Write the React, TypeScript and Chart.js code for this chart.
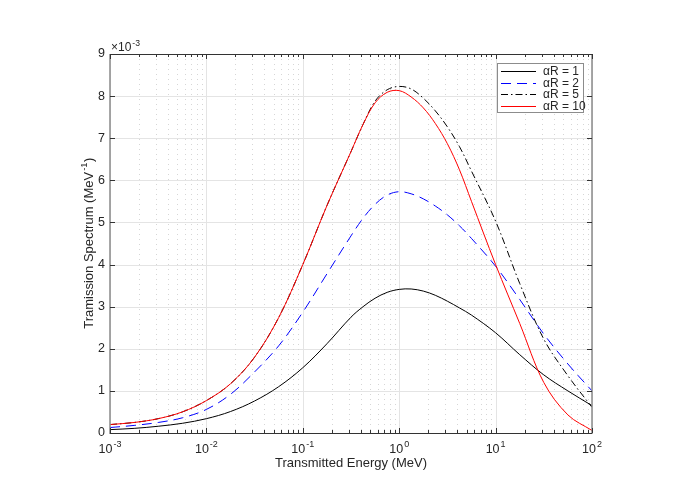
import { useEffect, useRef } from "react";
import { Chart, registerables } from "chart.js";

Chart.register(...registerables);

// transmitted energy (MeV); quarter decades, eighth decades near the peak
const energies = [
  0.001, 0.00178, 0.00316, 0.00562, 0.01, 0.0178, 0.0316, 0.0562, 0.1, 0.178, 0.316,
  0.422, 0.562, 0.75, 1, 1.33, 1.78, 2.37, 3.16, 4.22, 5.62, 10, 17.8, 31.6, 56.2, 100
];

// spectrum values in units of 1e-3 MeV^-1
const spectrumR1 = [
  0.08, 0.11, 0.16, 0.23, 0.34, 0.51, 0.76, 1.1, 1.55, 2.12, 2.75, 3.0, 3.2, 3.34,
  3.41, 3.42, 3.37, 3.27, 3.13, 2.97, 2.8, 2.38, 1.86, 1.38, 1.0, 0.65
];
const spectrumR2 = [
  0.13, 0.18, 0.25, 0.36, 0.56, 0.92, 1.45, 2.07, 2.87, 3.78, 4.68, 5.1, 5.43, 5.65,
  5.73, 5.68, 5.56, 5.39, 5.18, 4.92, 4.62, 3.96, 3.17, 2.35, 1.64, 1.0
];
const spectrumR5 = [
  0.2, 0.25, 0.34, 0.5, 0.77, 1.17, 1.8, 2.74, 4.0, 5.4, 6.68, 7.33, 7.88, 8.15,
  8.23, 8.17, 7.95, 7.65, 7.27, 6.8, 6.22, 5.03, 3.55, 2.23, 1.36, 0.61
];
const spectrumR10 = [
  0.2, 0.25, 0.34, 0.5, 0.77, 1.17, 1.8, 2.74, 4.0, 5.4, 6.68, 7.33, 7.84, 8.09,
  8.13, 7.98, 7.72, 7.35, 6.87, 6.25, 5.5, 4.0, 2.6, 1.2, 0.43, 0.06
];

const legendLabels = ["αR = 1", "αR = 2", "αR = 5", "αR = 10"];
const seriesColors = ["#000000", "#0000ff", "#000000", "#ff0000"];
const seriesDashes = [[], [10, 6], [7, 3, 1.5, 3], []];

const xMajorTicks = [0.001, 0.01, 0.1, 1, 10, 100];
const xTickExponents = ["-3", "-2", "-1", "0", "1", "2"];
const yTicks = [0, 1, 2, 3, 4, 5, 6, 7, 8, 9];
const yTickLabels = ["0", "1", "2", "3", "4", "5", "6", "7", "8", "9"];

const FONT = '"Liberation Sans", Arial, Helvetica, sans-serif';
const TEXT = "#262626";

// minor ticks 2..9 inside each decade
const xMinorTicks: number[] = [];
xMajorTicks.slice(0, -1).forEach((d) => {
  for (let m = 2; m <= 9; m++) xMinorTicks.push(d * m);
});

function toPoints(ys: number[]) {
  return ys.map((y, i) => ({ x: energies[i], y }));
}

// draws base with a raised exponent, centred on x (or starting at x)
function drawPower(
  ctx: CanvasRenderingContext2D,
  base: string,
  exp: string,
  x: number,
  y: number,
  align: "center" | "left" = "center",
  size = 12.5
) {
  ctx.font = `${size}px ${FONT}`;
  const wb = ctx.measureText(base).width;
  ctx.font = `${size * 0.72}px ${FONT}`;
  const we = ctx.measureText(exp).width;
  const start = align === "center" ? x - (wb + we + 1) / 2 : x;
  ctx.textAlign = "left";
  ctx.textBaseline = "alphabetic";
  ctx.font = `${size}px ${FONT}`;
  ctx.fillText(base, start, y);
  ctx.font = `${size * 0.72}px ${FONT}`;
  ctx.fillText(exp, start + wb + 1, y - size * 0.45);
  return start + wb + we + 1;
}

const matlabAxes = {
  id: "matlabAxes",
  beforeDatasetsDraw(chart: Chart) {
    const { ctx, chartArea: a } = chart;
    const xs = chart.scales.x;
    const ys = chart.scales.y;
    ctx.save();
    ctx.lineWidth = 1;

    ctx.strokeStyle = "#e4e4e4";
    yTicks.forEach((v) => {
      const py = Math.round(ys.getPixelForValue(v)) + 0.5;
      ctx.beginPath();
      ctx.moveTo(a.left, py);
      ctx.lineTo(a.right, py);
      ctx.stroke();
    });

    ctx.strokeStyle = "#d6d6d6";
    ctx.setLineDash([1, 4]);
    xMinorTicks.forEach((v) => {
      const px = Math.round(xs.getPixelForValue(v)) + 0.5;
      ctx.beginPath();
      ctx.moveTo(px, a.top);
      ctx.lineTo(px, a.bottom);
      ctx.stroke();
    });
    ctx.setLineDash([]);

    ctx.strokeStyle = "#e4e4e4";
    xMajorTicks.forEach((v) => {
      const px = Math.round(xs.getPixelForValue(v)) + 0.5;
      ctx.beginPath();
      ctx.moveTo(px, a.top);
      ctx.lineTo(px, a.bottom);
      ctx.stroke();
    });
    ctx.restore();
  },
  afterDatasetsDraw(chart: Chart) {
    const { ctx, chartArea: a } = chart;
    const xs = chart.scales.x;
    const ys = chart.scales.y;
    ctx.save();

    // box
    ctx.lineWidth = 1;
    ctx.strokeStyle = "#333333";
    ctx.beginPath();
    ctx.moveTo(a.left, a.top + 0.5);
    ctx.lineTo(a.right, a.top + 0.5);
    ctx.moveTo(a.left, a.bottom + 0.5);
    ctx.lineTo(a.right, a.bottom + 0.5);
    ctx.stroke();
    ctx.strokeStyle = "#8a8a8a";
    ctx.lineWidth = 1.5;
    ctx.beginPath();
    ctx.moveTo(a.left, a.top);
    ctx.lineTo(a.left, a.bottom + 1);
    ctx.moveTo(a.right, a.top);
    ctx.lineTo(a.right, a.bottom + 1);
    ctx.stroke();

    // tick marks, pointing inwards
    ctx.lineWidth = 1;
    ctx.strokeStyle = "#333333";
    ctx.beginPath();
    xMajorTicks.forEach((v) => {
      const px = Math.round(xs.getPixelForValue(v)) + 0.5;
      ctx.moveTo(px, a.bottom);
      ctx.lineTo(px, a.bottom - 5);
      ctx.moveTo(px, a.top);
      ctx.lineTo(px, a.top + 5);
    });
    xMinorTicks.forEach((v) => {
      const px = Math.round(xs.getPixelForValue(v)) + 0.5;
      ctx.moveTo(px, a.bottom);
      ctx.lineTo(px, a.bottom - 3);
      ctx.moveTo(px, a.top);
      ctx.lineTo(px, a.top + 3);
    });
    yTicks.forEach((v) => {
      const py = Math.round(ys.getPixelForValue(v)) + 0.5;
      ctx.moveTo(a.left, py);
      ctx.lineTo(a.left + 5, py);
      ctx.moveTo(a.right, py);
      ctx.lineTo(a.right - 5, py);
    });
    ctx.stroke();

    // tick labels
    ctx.fillStyle = TEXT;
    xMajorTicks.forEach((v, i) => {
      drawPower(ctx, "10", xTickExponents[i], xs.getPixelForValue(v), a.bottom + 20);
    });
    ctx.font = `12.5px ${FONT}`;
    ctx.textAlign = "right";
    ctx.textBaseline = "middle";
    yTicks.forEach((v, i) => {
      ctx.fillText(yTickLabels[i], a.left - 5, ys.getPixelForValue(v));
    });
    drawPower(ctx, "×10", "-3", a.left + 1, a.top - 3, "left", 12);

    // axis titles
    ctx.font = `13px ${FONT}`;
    ctx.textAlign = "center";
    ctx.textBaseline = "alphabetic";
    ctx.fillText("Transmitted Energy (MeV)", (a.left + a.right) / 2, a.bottom + 34);

    ctx.save();
    ctx.translate(a.left - 17, (a.top + a.bottom) / 2);
    ctx.rotate(-Math.PI / 2);
    ctx.font = `13px ${FONT}`;
    const wParen = ctx.measureText(")").width;
    const end = drawPower(ctx, "Tramission Spectrum (MeV", "-1", -wParen / 2, 0, "center", 13);
    ctx.font = `13px ${FONT}`;
    ctx.textAlign = "left";
    ctx.fillText(")", end + 0.5, 0);
    ctx.restore();

    // legend
    const lx = a.right - 95;
    const ly = a.top + 9;
    ctx.fillStyle = "#ffffff";
    ctx.fillRect(lx, ly, 86, 49);
    ctx.strokeStyle = "#8c8c8c";
    ctx.lineWidth = 1;
    ctx.strokeRect(lx + 0.5, ly + 0.5, 86, 49);
    legendLabels.forEach((label, i) => {
      const ry = Math.round(ly + 8 + i * 11.5) + 0.5;
      ctx.strokeStyle = seriesColors[i];
      ctx.lineWidth = 1;
      ctx.setLineDash(seriesDashes[i]);
      ctx.beginPath();
      ctx.moveTo(lx + 4, ry);
      ctx.lineTo(lx + 39, ry);
      ctx.stroke();
      ctx.setLineDash([]);
      ctx.fillStyle = TEXT;
      ctx.font = `12px ${FONT}`;
      ctx.textAlign = "left";
      ctx.textBaseline = "middle";
      ctx.fillText(label, lx + 46, ry);
    });

    ctx.restore();
  }
};

export default function App() {
  const chartRef = useRef<HTMLCanvasElement | null>(null);
  const chartInstance = useRef<Chart | null>(null);

  useEffect(() => {
    if (!chartRef.current) return;
    if (chartInstance.current) chartInstance.current.destroy();

    const ctx = chartRef.current.getContext("2d");
    if (!ctx) return;

    const series = [spectrumR1, spectrumR2, spectrumR5, spectrumR10];
    // αR = 10 is drawn on top
    const drawOrder = [4, 3, 2, 1];

    chartInstance.current = new Chart(ctx, {
      type: "scatter",
      data: {
        datasets: series.map((values, i) => ({
          label: legendLabels[i],
          data: toPoints(values),
          borderColor: seriesColors[i],
          borderDash: seriesDashes[i],
          order: drawOrder[i],
          showLine: true,
          pointRadius: 0,
          borderWidth: 1,
          tension: 0.35,
          fill: false
        }))
      },
      options: {
        responsive: false,
        animation: false,
        layout: { padding: { left: 110, right: 88, top: 54, bottom: 71 } },
        plugins: {
          legend: { display: false },
          tooltip: { enabled: false }
        },
        scales: {
          x: { type: "logarithmic", min: 0.001, max: 100, display: false },
          y: { type: "linear", min: 0, max: 9, display: false }
        }
      },
      plugins: [matlabAxes]
    });

    return () => {
      if (chartInstance.current) {
        chartInstance.current.destroy();
        chartInstance.current = null;
      }
    };
  }, []);

  return (
    <div style={{ position: "absolute", left: 0, top: 0, width: 680, height: 504, background: "#fff" }}>
      <canvas ref={chartRef} width={680} height={504} />
    </div>
  );
}
